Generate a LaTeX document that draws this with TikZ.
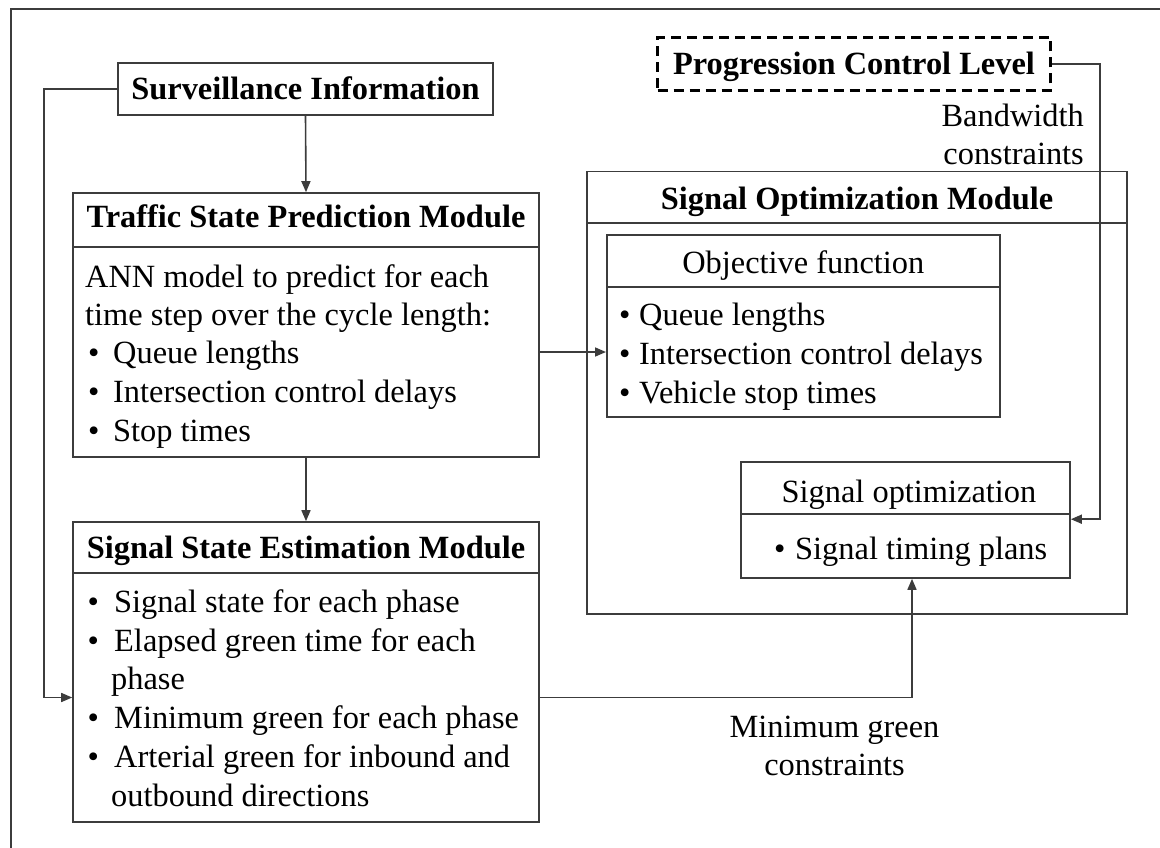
\documentclass[tikz,border=0pt]{standalone}
\usepackage{fontspec}
\setmainfont{Liberation Serif}
\usetikzlibrary{arrows.meta}
\definecolor{ln}{HTML}{3C3C3C}
\begin{document}
\begin{tikzpicture}[x=1pt,y=-1pt,
  font=\fontsize{32.4pt}{38.7pt}\selectfont,
  box/.style={draw=ln, line width=1.6pt, rectangle, inner sep=0pt},
  dbox/.style={draw=black, line width=2.6pt, dash pattern=on 10pt off 6pt, rectangle, inner sep=0pt},
  conn/.style={draw=ln, line width=1.6pt},
  arr/.style={conn, -{Triangle[length=11pt,width=9pt]}},
  ttl/.style={anchor=base, inner sep=0pt},
  txt/.style={anchor=base west, inner sep=0pt},
]
\useasboundingbox (0,0) rectangle (1160,848);

% page frame (top and left edges)
\draw[draw=ln, line width=2pt] (1160,9.5) -- (10.5,9.5) -- (10.5,848);

% ---------- boxes ----------
\node[box, minimum width=375pt, minimum height=52pt] (surv) at (305.5,89) {};
\node[box, minimum width=466pt, minimum height=54pt] (tsph) at (306,220) {};
\node[box, minimum width=466pt, minimum height=210pt] (tspb) at (306,352) {};
\node[box, minimum width=466pt, minimum height=51pt] (sseh) at (306,547.5) {};
\node[box, minimum width=466pt, minimum height=249pt] (sseb) at (306,697.5) {};

\node[dbox, minimum width=393pt, minimum height=53pt] (pcl) at (854,64) {};
\node[box, minimum width=540pt, minimum height=51pt] (somh) at (856.7,197) {};
\node[box, minimum width=540pt, minimum height=391pt] (somb) at (856.7,418.2) {};
\node[box, minimum width=393pt, minimum height=52pt] (objh) at (803.3,261) {};
\node[box, minimum width=393pt, minimum height=130pt] (objb) at (803.3,352) {};
\node[box, minimum width=329pt, minimum height=52pt] (opth) at (905.5,488) {};
\node[box, minimum width=329pt, minimum height=64pt] (optb) at (905.5,546) {};

% ---------- titles ----------
\node[ttl] (survt) at (305.5,100) {\bfseries Surveillance Information};
\node[ttl] (tspt) at (306,227) {\bfseries Traffic State Prediction Module};
\node[ttl] (sset) at (306,558) {\bfseries Signal State Estimation Module};
\node[ttl] (pclt) at (854,75) {\bfseries Progression Control Level};
\node[ttl] (somt) at (857,209) {\bfseries Signal Optimization Module};
\node[ttl] (objt) at (803.3,273) {Objective function};
\node[ttl] (optt) at (909,502) {Signal optimization};

% ---------- traffic state prediction body ----------
\node[txt] (tspl1) at (85,287) {ANN model to predict for each};
\node[txt] (tspl2) at (85,325) {time step over the cycle length:};
\foreach \t/\y [count=\i] in {Queue lengths/363, Intersection control delays/402, Stop times/441}{
  \node[txt] (tspdot\i) at (88,\y) {\textbullet};
  \node[txt] (tspitem\i) at (113,\y) {\t};
}

% ---------- signal state estimation body ----------
\foreach \t/\y [count=\i] in {Signal state for each phase/612, Elapsed green time for each/651,
    Minimum green for each phase/728, Arterial green for inbound and/767}{
  \node[txt] (ssedot\i) at (87.5,\y) {\textbullet};
  \node[txt] (sseitem\i) at (114,\y) {\t};
}
\node[txt] (ssecont1) at (111,689) {phase};
\node[txt] (ssecont2) at (111,806) {outbound directions};

% ---------- objective function body ----------
\foreach \t/\y [count=\i] in {Queue lengths/325, Intersection control delays/364, Vehicle stop times/403}{
  \node[txt] (objdot\i) at (619,\y) {\textbullet};
  \node[txt] (objitem\i) at (639,\y) {\t};
}

% ---------- signal optimization body ----------
\node[txt] (optdot) at (774,559) {\textbullet};
\node[txt] (optitem) at (795,559) {Signal timing plans};

% ---------- connector labels ----------
\node[anchor=base east, inner sep=0pt] (bw1) at (1084,127) {Bandwidth};
\node[anchor=base east, inner sep=0pt] (bw2) at (1084,165) {constraints};
\node[ttl] (mg1) at (834.5,737) {Minimum green};
\node[ttl] (mg2) at (834.5,775) {constraints};

% ---------- connectors ----------
\draw[arr] (surv.south) -- (tsph.north);
\draw[arr] (tspb.south) -- (sseh.north);
\draw[arr] (tspb.east) -- (objb.west);

\coordinate (fb) at (43.7,0);
\draw[arr] (surv.west) -| (fb |- sseb.west) -- (sseb.west);

\coordinate (mgin) at ([xshift=6.5pt]optb.south);
\draw[arr] (sseb.east) -| (mgin);

\coordinate (bwx) at (1100,0);
\coordinate (bwin) at ([yshift=-6pt]optb.north east);
\draw[arr] (pcl.east) -| (bwx |- bwin) -- (bwin);
\end{tikzpicture}
\end{document}
